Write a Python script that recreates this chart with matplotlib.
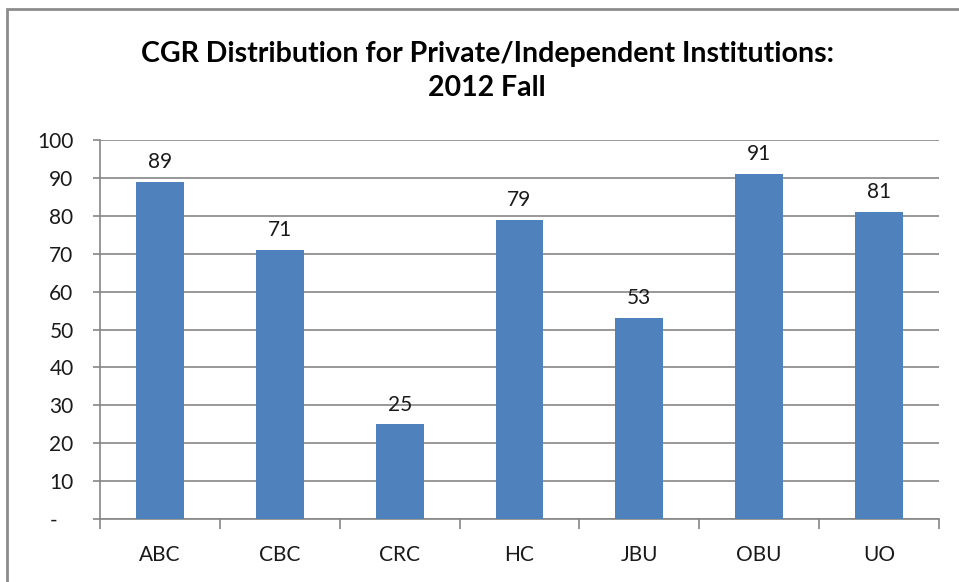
import matplotlib
matplotlib.use("Agg")
import matplotlib.pyplot as plt
import numpy as np
from matplotlib.patches import Rectangle

categories = ["ABC", "CBC", "CRC", "HC", "JBU", "OBU", "UO"]
values = [89, 71, 25, 79, 53, 91, 81]
yticks = [0, 10, 20, 30, 40, 50, 60, 70, 80, 90, 100]
ytick_labels = ["-   ", "10", "20", "30", "40", "50", "60", "70", "80", "90", "100"]
title = "CGR Distribution for Private/Independent Institutions:\n2012 Fall"

plt.rcParams['font.family'] = ['Lato', 'DejaVu Sans']

W, H = 959, 582
fig = plt.figure(figsize=(W / 100, H / 100), dpi=100)
fig.patch.set_facecolor("white")

# outer chart border (only left and top visible in crop)
fig.patches.append(Rectangle((7 / W, -0.1), 1.2, (H - 9) / H + 0.1, transform=fig.transFigure,
                             fill=False, edgecolor="#8c8c8c", linewidth=2.0, zorder=0))

ax = fig.add_axes([100 / W, (H - 519) / H, (939 - 100) / W, (519 - 140) / H])
x = np.arange(len(categories))
ax.bar(x, values, width=0.4, color="#4F81BD", zorder=3)
for xi, v in zip(x, values):
    ax.annotate(str(v), (xi, v), xytext=(0, 7), textcoords="offset points",
                ha="center", va="bottom", fontsize=15, color="#1a1a1a")

ax.set_xlim(-0.5, len(categories) - 0.5)
ax.set_ylim(0, 100)
ax.set_yticks(yticks)
ax.set_yticklabels(ytick_labels, fontsize=15, color="#1a1a1a")
ax.set_xticks(x)
ax.set_xticklabels(categories, fontsize=15, color="#1a1a1a")
ax.tick_params(axis="x", length=0, pad=19)
ax.set_xticks(np.arange(-0.5, len(categories)), minor=True)
ax.tick_params(axis="x", which="minor", length=7, color="#868686", width=1.2)
ax.tick_params(axis="y", length=5, color="#868686", width=1.2, pad=14)
ax.grid(axis="y", color="#868686", linewidth=1.2, zorder=0)
ax.set_axisbelow(True)
for s in ["top", "right"]:
    ax.spines[s].set_visible(False)
for s in ["left", "bottom"]:
    ax.spines[s].set_color("#868686")
    ax.spines[s].set_linewidth(1.2)

fig.text(487 / W, 1 - 71 / H, title, ha="center", va="center", fontsize=20.5,
         fontweight="bold", color="#000000", linespacing=1.35)

fig.savefig("out.png", dpi=100, facecolor="white")
